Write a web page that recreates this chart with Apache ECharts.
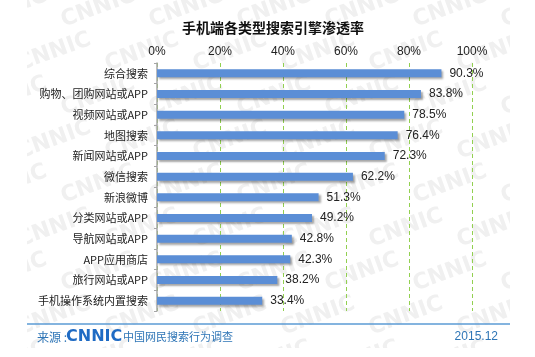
<!DOCTYPE html>
<html><head><meta charset="utf-8">
<script src="https://cdn.jsdelivr.net/npm/echarts@6/dist/echarts.min.js"></script>
<style>html,body{margin:0;padding:0;background:#fff;}#c{width:535px;height:357px;}</style>
</head><body><div id="c"></div>
<script>
const categories = ['综合搜索','购物、团购网站或APP','视频网站或APP','地图搜索','新闻网站或APP','微信搜索','新浪微博','分类网站或APP','导航网站或APP','APP应用商店','旅行网站或APP','手机操作系统内置搜索'];
const values = [90.3, 83.8, 78.5, 76.4, 72.3, 62.2, 51.3, 49.2, 42.8, 42.3, 38.2, 33.4];
const xTicks = [0, 20, 40, 60, 80, 100];
const titleText = '手机端各类型搜索引擎渗透率';
const sourceLabel = '来源 :';
const sourceLogo = 'CNNIC';
const sourceText = '中国网民搜索行为调查';
const dateText = '2015.12';

const FONT = '"Noto Sans CJK SC", "Noto Sans", sans-serif';
const NUMFONT = '"Liberation Sans", Arial, sans-serif';
const chart = echarts.init(document.getElementById('c'), null, {renderer: 'canvas'});

const wm = [];
for (let r = 0; r < 9; r++) {
  for (let c = 0; c < 7; c++) {
    wm.push({
      type: 'text', z: 0, silent: true,
      x: 10 + c * 88 + (r % 2) * 44, y: 8 + r * 44, rotation: 0.35,
      style: {text: 'CNNIC', fill: '#f0f0f0', font: 'bold 22px "DejaVu Sans", sans-serif', textAlign: 'center', textVerticalAlign: 'middle'}
    });
  }
}
wm.push({type: 'rect', z: 1, silent: true, shape: {x: 0, y: 0, width: 27, height: 357}, style: {fill: '#fff'}});
wm.push({type: 'rect', z: 1, silent: true, shape: {x: 510, y: 0, width: 25, height: 357}, style: {fill: '#fff'}});
wm.push({type: 'rect', z: 1, silent: true, shape: {x: 0, y: 348, width: 535, height: 9}, style: {fill: '#fff'}});

chart.setOption({
  backgroundColor: '#fff',
  animation: false,
  title: {
    text: titleText, left: 268, top: 16, textAlign: 'center',
    textStyle: {fontFamily: FONT, fontSize: 14, fontWeight: 'bold', color: '#111'}
  },
  grid: {left: 157, right: 63, top: 63, bottom: 46, containLabel: false},
  xAxis: {
    type: 'value', position: 'top', min: 0, max: 100, interval: 20,
    axisLine: {show: false}, axisTick: {show: false},
    axisLabel: {
      margin: 5, fontFamily: NUMFONT, fontSize: 12, color: '#222',
      formatter: v => xTicks.includes(v) ? v + '%' : ''
    },
    splitLine: {show: true, lineStyle: {color: '#92d050', type: [4, 3], width: 1}},
  },
  yAxis: {
    type: 'category', data: categories, inverse: true,
    axisLine: {show: true, lineStyle: {color: '#a6a6a6', width: 1.5}},
    axisTick: {show: true, length: 3, inside: false, lineStyle: {color: '#a6a6a6'}},
    axisLabel: {margin: 9, fontFamily: FONT, fontSize: 11, color: '#222'}
  },
  series: [{
    type: 'bar', data: values, barWidth: 8, z: 3,
    itemStyle: {color: '#5b8ed6', shadowColor: 'rgba(0,0,0,0.35)', shadowBlur: 2, shadowOffsetX: 2, shadowOffsetY: 2},
    label: {show: true, position: 'right', distance: 8, fontFamily: NUMFONT, fontSize: 12, color: '#222', formatter: p => p.value.toFixed(1) + '%'}
  }],
  graphic: wm.concat([
    {type: 'line', z: 5, shape: {x1: 27, y1: 324, x2: 510, y2: 324}, style: {stroke: '#5b9bd5', lineWidth: 1.5}},
    {type: 'text', z: 5, x: 37, y: 337, style: {text: sourceLabel, fill: '#2e75b6', font: '12px ' + FONT, textVerticalAlign: 'middle'}},
    {type: 'text', z: 5, x: 66, y: 337, style: {text: sourceLogo, fill: '#1f6bc4', font: 'bold 16px "DejaVu Sans", sans-serif', textVerticalAlign: 'middle'}},
    {type: 'text', z: 5, x: 123, y: 337, style: {text: sourceText, fill: '#2e75b6', font: '11px ' + FONT, textVerticalAlign: 'middle'}},
    {type: 'text', z: 5, x: 498, y: 337, style: {text: dateText, fill: '#2e75b6', font: '12px ' + NUMFONT, textAlign: 'right', textVerticalAlign: 'middle'}}
  ])
});
</script></body></html>
